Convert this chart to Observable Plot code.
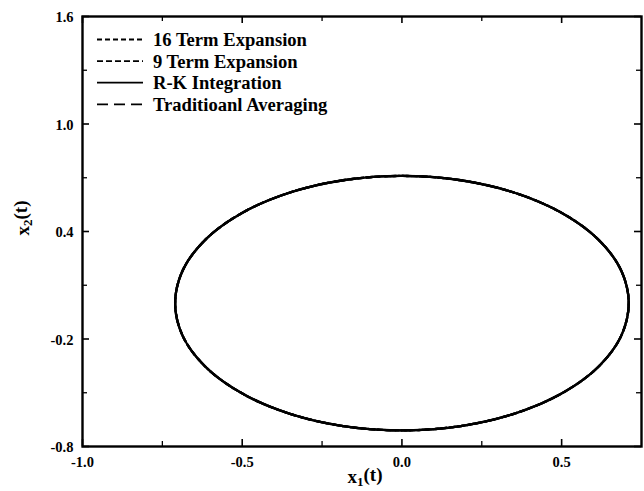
<!DOCTYPE html>
<html><head><meta charset="utf-8">
<script src="https://cdn.jsdelivr.net/npm/d3@7"></script>
<script src="https://cdn.jsdelivr.net/npm/@observablehq/plot@0.6"></script>
<style>
html,body{margin:0;padding:0;background:#fff;}
#chart{width:644px;height:491px;}
</style></head><body><div id="chart"></div>
<script>
// ---- data ----
const seriesNames = ["16 Term Expansion", "9 Term Expansion", "R-K Integration", "Traditioanl Averaging"];
// phase-plane trajectory (all four solutions coincide)
const x1Values = [0.71, 0.686, 0.615, 0.502, 0.355, 0.184, 0.00, -0.184, -0.355, -0.502, -0.615, -0.686,
                  -0.71, -0.686, -0.615, -0.502, -0.355, -0.184, 0.00, 0.184, 0.355, 0.502, 0.615, 0.686];
const x2Values = [0.00, 0.184, 0.355, 0.502, 0.615, 0.686, 0.71, 0.686, 0.615, 0.502, 0.355, 0.184,
                  0.00, -0.184, -0.355, -0.502, -0.615, -0.686, -0.71, -0.686, -0.615, -0.502, -0.355, -0.184];
const xTicks = [-1.0, -0.5, 0.0, 0.5];
const xMinorTicks = [-0.75, -0.25, 0.25];
const yTicks = [-0.8, -0.2, 0.4, 1.0, 1.6];
const yMinorTicks = [-0.5, 0.1, 0.7, 1.3];
const xLabel = "x1(t)";
const yLabel = "x2(t)";

// ---- styles ----
const dashStyles = ["5,3", "6,3", null, "11,6"];
const W = 644, H = 491, mL = 82, mR = 3, mT = 16, mB = 45;
const fw = W - mL - mR, fh = H - mT - mB;
const majorLen = 7, minorLen = 5;
const font = "'Liberation Serif', 'Times New Roman', serif";

const points = x1Values.map((x, i) => ({x1: x, x2: x2Values[i]}));
const fmt = d => d.toFixed(1);

const curveMarks = seriesNames.map((name, i) =>
  Plot.line(points, {x: "x1", y: "x2", curve: "catmull-rom-closed", stroke: "black",
    strokeWidth: 2.3, strokeDasharray: dashStyles[i]}));

const chart = Plot.plot({
  width: W, height: H,
  marginLeft: mL, marginRight: mR, marginTop: mT, marginBottom: mB,
  x: {domain: [-1, 0.75]},
  y: {domain: [-0.8, 1.6]},
  style: {fontFamily: font, fontWeight: "bold", background: "white", color: "black"},
  marks: [
    ...curveMarks,
    // inward ticks, all four sides
    Plot.tickX(xTicks, {x: d => d, insetTop: fh - majorLen, stroke: "black", strokeWidth: 1.6}),
    Plot.tickX(xTicks, {x: d => d, insetBottom: fh - majorLen, stroke: "black", strokeWidth: 1.6}),
    Plot.tickX(xMinorTicks, {x: d => d, insetTop: fh - minorLen, stroke: "black", strokeWidth: 1.3}),
    Plot.tickX(xMinorTicks, {x: d => d, insetBottom: fh - minorLen, stroke: "black", strokeWidth: 1.3}),
    Plot.tickY(yTicks, {y: d => d, insetRight: fw - majorLen, stroke: "black", strokeWidth: 1.6}),
    Plot.tickY(yTicks, {y: d => d, insetLeft: fw - majorLen, stroke: "black", strokeWidth: 1.6}),
    Plot.tickY(yMinorTicks, {y: d => d, insetRight: fw - minorLen, stroke: "black", strokeWidth: 1.3}),
    Plot.tickY(yMinorTicks, {y: d => d, insetLeft: fw - minorLen, stroke: "black", strokeWidth: 1.3}),
    Plot.frame({stroke: "black", strokeWidth: 2.4}),
    Plot.axisX(xTicks, {tickSize: 0, tickPadding: 10, tickFormat: fmt, fontSize: 14.5, fontWeight: "bold", label: null}),
    Plot.axisY(yTicks, {tickSize: 0, tickPadding: 9, tickFormat: fmt, fontSize: 14.5, fontWeight: "bold", label: null, dy: 1}),
    Plot.text([xLabel], {frameAnchor: "bottom", dy: 36, dx: 3, fontSize: 19, fontWeight: "bold", text: d => d}),
    Plot.text([yLabel], {frameAnchor: "left", dx: -60, dy: 4, rotate: -90, fontSize: 19, fontWeight: "bold", text: d => d})
  ]
});

// subscripts in axis labels
d3.select(chart).selectAll("text").each(function() {
  const t = this.textContent;
  if (t === xLabel || t === yLabel) {
    const sel = d3.select(this);
    sel.text(null);
    sel.append("tspan").text(t[0]);
    sel.append("tspan").attr("font-size", 13).attr("dy", "0.3em").text(t[1]);
    sel.append("tspan").attr("dy", "-0.3em").text(t.slice(2));
  }
});

// legend inside the plot, top-left
const lg = d3.select(chart).append("g")
  .attr("font-family", font).attr("font-weight", "bold").attr("font-size", 18.6)
  .attr("text-anchor", "start");
seriesNames.forEach((name, i) => {
  const y = 39.5 + i * 21.6;
  lg.append("line").attr("x1", 97).attr("x2", 143).attr("y1", y).attr("y2", y)
    .attr("stroke", "black").attr("stroke-width", 1.8)
    .attr("stroke-dasharray", dashStyles[i]);
  lg.append("text").attr("x", 153).attr("y", y).attr("dy", "0.35em")
    .attr("text-anchor", "start").attr("fill", "black").text(name);
});

document.getElementById("chart").appendChild(chart);
</script>
</body></html>
